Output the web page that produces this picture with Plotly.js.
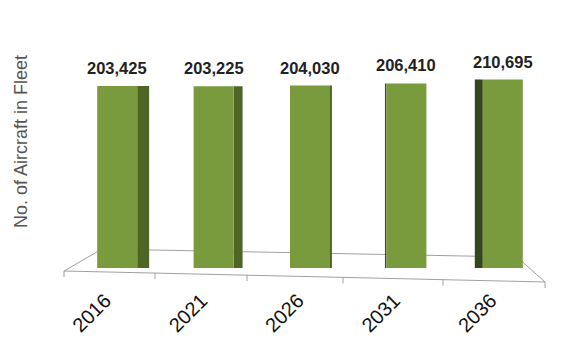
<!DOCTYPE html>
<html>
<head>
<meta charset="utf-8">
<script src="https://cdn.plot.ly/plotly-3.0.1.min.js"></script>
<style>
  html, body { margin: 0; padding: 0; background: #ffffff; }
  #chart { width: 581px; height: 364px; }
</style>
</head>
<body>
<div id="chart"></div>
<script>
// ---- data ----
const years = ["2016", "2021", "2026", "2031", "2036"];
const fleet = [203425, 203225, 204030, 206410, 210695];
const yTitle = "No. of Aircraft in Fleet";

// ---- styling (positions / colours of the faux-3D faces) ----
const frontWidth = 0.415;
const sideOffset = [0.2075, 0.2075, 0.2075, -0.2225, -0.2905];
const sideWidth  = [0.124, 0.093, 0.02, 0.015, 0.083];
const sideColor  = ["#4e6526", "#4e6526", "#4e6526", "#3a4f1c", "#34471a"];
const labelFont = "Liberation Sans, Arial, sans-serif";

const front = {
  type: "bar",
  x: years,
  y: fleet,
  width: frontWidth,
  marker: { color: "#7a9a3e", line: { width: 0 } },
  hoverinfo: "x+y",
  showlegend: false
};

const side = {
  type: "bar",
  x: years,
  y: fleet,
  offset: sideOffset,
  width: sideWidth,
  marker: { color: sideColor, line: { width: 0 } },
  hoverinfo: "skip",
  showlegend: false
};

// category axis: annotations take the category's serial index
const valueNotes = years.map((yr, i) => ({
  x: i,
  y: fleet[i],
  xref: "x",
  yref: "y",
  text: fleet[i].toLocaleString("en-US"),
  showarrow: false,
  xanchor: "center",
  yanchor: "bottom",
  yshift: 7,
  font: { family: labelFont, size: 16.5, color: "#222222", weight: "bold" }
}));

// floor (perspective base plane), drawn as decoration in paper units
const L = 69, PW = 482, T = 40, PH = 228;
const px = v => (v - L) / PW;
const py = v => (T + PH - v) / PH;
const floorPts = [[64, 271], [102, 249], [517, 257], [545, 282]];
const floorPath = "M " + floorPts.map(p => px(p[0]).toFixed(4) + "," + py(p[1]).toFixed(4)).join(" L ") + " Z";
const tickX = [64, 155, 247, 343, 443, 545];
const shapes = [{
  type: "path", xref: "paper", yref: "paper", layer: "below",
  path: floorPath, line: { color: "#a0a0a0", width: 1 }, fillcolor: "rgba(0,0,0,0)"
}].concat(tickX.map(x => {
  const yFront = 271 + (x - 64) / (545 - 64) * (282 - 271);
  return {
    type: "line", xref: "paper", yref: "paper", layer: "below",
    x0: px(x), x1: px(x), y0: py(yFront), y1: py(yFront + 6),
    line: { color: "#a0a0a0", width: 1 }
  };
}));

const layout = {
  width: 581,
  height: 364,
  margin: { l: L, r: 581 - L - PW, t: T, b: 364 - T - PH, pad: 0 },
  paper_bgcolor: "#ffffff",
  plot_bgcolor: "#ffffff",
  barmode: "overlay",
  showlegend: false,
  xaxis: {
    type: "category",
    range: [-0.5, 4.5],
    showline: false,
    showgrid: false,
    zeroline: false,
    ticks: "",
    tickangle: -45,
    ticklabelstandoff: 16,
    ticklabelshift: -12,
    tickfont: { family: "Liberation Sans, Arial, sans-serif", size: 20, color: "#111111" },
    fixedrange: true
  },
  yaxis: {
    range: [0, 255000],
    showline: false,
    showgrid: false,
    zeroline: false,
    showticklabels: false,
    ticks: "",
    fixedrange: true
  },
  shapes: shapes,
  annotations: valueNotes.concat([{
    xref: "paper", yref: "paper",
    x: px(21), y: py(142),
    text: yTitle,
    textangle: -90,
    showarrow: false,
    xanchor: "center", yanchor: "middle",
    font: { family: "Liberation Sans, Arial, sans-serif", size: 18, color: "#555555" }
  }])
};

Plotly.newPlot("chart", [side, front], layout, { displayModeBar: false, staticPlot: true });
</script>
</body>
</html>
